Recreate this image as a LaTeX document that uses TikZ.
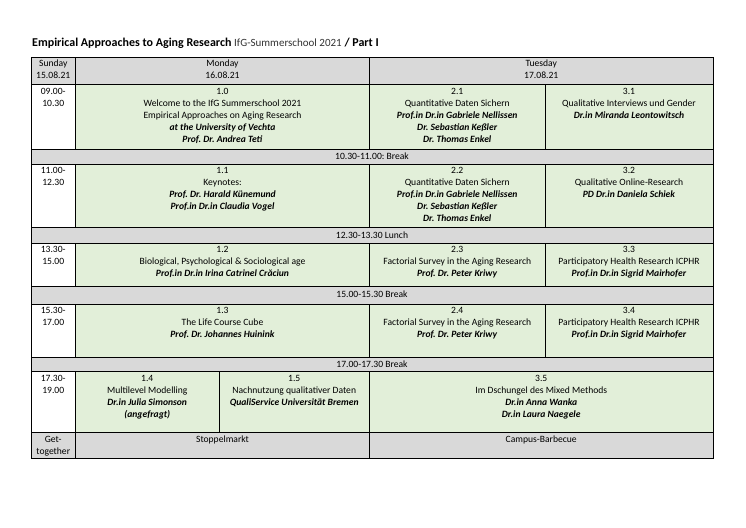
\documentclass[tikz,border=0pt]{standalone}
\usepackage{fontspec}
\setmainfont{Carlito}
\definecolor{hdgray}{HTML}{D9D9D9}
\definecolor{cellgreen}{HTML}{E2EFD9}
\newcommand\nm[1]{\textbf{\textit{#1}}}
\begin{document}
\frenchspacing
\begin{tikzpicture}[x=1pt,y=-1pt,
  gcell/.style={draw=black,line width=0.8pt,fill=hdgray},
  ecell/.style={draw=black,line width=0.8pt,fill=cellgreen},
  wcell/.style={draw=black,line width=0.8pt,fill=white},
  txt/.style={font=\fontsize{9.6}{12}\selectfont\frenchspacing,align=center,inner sep=0pt,anchor=north},
  brk/.style={font=\fontsize{9.6}{12}\selectfont\frenchspacing,inner sep=0pt,anchor=base}]
\useasboundingbox[fill=white] (0,0) rectangle (746,527);
% title
\node[anchor=base west,inner sep=0pt] (title) at (32,46.5)
  {\fontsize{12}{14}\selectfont\bfseries Empirical Approaches to Aging Research {\mdseries\color{black!80}\fontsize{11}{14}\selectfont IfG-Summerschool 2021} / Part I};
% header row
\draw[gcell] (31,57) rectangle (75.5,84.5);
\draw[gcell] (75.5,57) rectangle (369.5,84.5);
\draw[gcell] (369.5,57) rectangle (713,84.5);
\node[txt] (hsun) at (53.25,58.1) {\strut Sunday\\15.08.21};
\node[txt] (hmon) at (222.5,58.1) {\strut Monday\\16.08.21};
\node[txt] (htue) at (541.25,58.1) {\strut Tuesday\\17.08.21};
% row 1
\draw[wcell] (31,84.5) rectangle (75.5,149);
\draw[ecell] (75.5,84.5) rectangle (369.5,149);
\draw[ecell] (369.5,84.5) rectangle (545,149);
\draw[ecell] (545,84.5) rectangle (713,149);
\node[txt] (t1) at (53.25,85.8) {\strut 09.00-\\10.30};
\node[txt] (c10) at (222.5,85.8) {\strut 1.0\\Welcome to the IfG Summerschool 2021\\Empirical Approaches on Aging Research\\\nm{at the University of Vechta}\\\nm{Prof. Dr. Andrea Teti}};
\node[txt] (c21) at (457.25,85.8) {\strut 2.1\\Quantitative Daten Sichern\\\nm{Prof.in Dr.in Gabriele Nellissen}\\\nm{Dr. Sebastian Keßler}\\\nm{Dr. Thomas Enkel}};
\node[txt] (c31) at (629,85.8) {\strut 3.1\\Qualitative Interviews und Gender\\\nm{Dr.in Miranda Leontowitsch}};
% break 1
\draw[gcell] (31,149) rectangle (713,164);
\node[brk] (b1) at (372,159.6) {10.30-11.00: Break};
% row 2
\draw[wcell] (31,164) rectangle (75.5,227);
\draw[ecell] (75.5,164) rectangle (369.5,227);
\draw[ecell] (369.5,164) rectangle (545,227);
\draw[ecell] (545,164) rectangle (713,227);
\node[txt] (t2) at (53.25,165.3) {\strut 11.00-\\12.30};
\node[txt] (c11) at (222.5,165.3) {\strut 1.1\\Keynotes:\\\nm{Prof. Dr. Harald Künemund}\\\nm{Prof.in Dr.in Claudia Vogel}};
\node[txt] (c22) at (457.25,165.3) {\strut 2.2\\Quantitative Daten Sichern\\\nm{Prof.in Dr.in Gabriele Nellissen}\\\nm{Dr. Sebastian Keßler}\\\nm{Dr. Thomas Enkel}};
\node[txt] (c32) at (629,165.3) {\strut 3.2\\Qualitative Online-Research\\\nm{PD Dr.in Daniela Schiek}};
% lunch
\draw[gcell] (31,227) rectangle (713,243);
\node[brk] (b2) at (372,238) {12.30-13.30 Lunch};
% row 3
\draw[wcell] (31,243) rectangle (75.5,286);
\draw[ecell] (75.5,243) rectangle (369.5,286);
\draw[ecell] (369.5,243) rectangle (545,286);
\draw[ecell] (545,243) rectangle (713,286);
\node[txt] (t3) at (53.25,244.3) {\strut 13.30-\\15.00};
\node[txt] (c12) at (222.5,244.3) {\strut 1.2\\Biological, Psychological \& Sociological age\\\nm{Prof.in Dr.in Irina Catrinel Crăciun}};
\node[txt] (c23) at (457.25,244.3) {\strut 2.3\\Factorial Survey in the Aging Research\\\nm{Prof. Dr. Peter Kriwy}};
\node[txt] (c33) at (629,244.3) {\strut 3.3\\Participatory Health Research ICPHR\\\nm{Prof.in Dr.in Sigrid Mairhofer}};
% break 3
\draw[gcell] (31,286) rectangle (713,304.5);
\node[brk] (b3) at (372,297.5) {15.00-15.30 Break};
% row 4
\draw[wcell] (31,304.5) rectangle (75.5,357);
\draw[ecell] (75.5,304.5) rectangle (369.5,357);
\draw[ecell] (369.5,304.5) rectangle (545,357);
\draw[ecell] (545,304.5) rectangle (713,357);
\node[txt] (t4) at (53.25,305.1) {\strut 15.30-\\17.00};
\node[txt] (c13) at (222.5,305.1) {\strut 1.3\\The Life Course Cube\\\nm{Prof. Dr. Johannes Huinink}};
\node[txt] (c24) at (457.25,305.1) {\strut 2.4\\Factorial Survey in the Aging Research\\\nm{Prof. Dr. Peter Kriwy}};
\node[txt] (c34) at (629,305.1) {\strut 3.4\\Participatory Health Research ICPHR\\\nm{Prof.in Dr.in Sigrid Mairhofer}};
% break 4
\draw[gcell] (31,357) rectangle (713,371.5);
\node[brk] (b4) at (372,367.2) {17.00-17.30 Break};
% row 5
\draw[wcell] (31,371.5) rectangle (75.5,432.5);
\draw[ecell] (75.5,371.5) rectangle (219,432.5);
\draw[ecell] (219,371.5) rectangle (369.5,432.5);
\draw[ecell] (369.5,371.5) rectangle (713,432.5);
\node[txt] (t5) at (53.25,372.8) {\strut 17.30-\\19.00};
\node[txt] (c14) at (147.25,372.8) {\strut 1.4\\Multilevel Modelling\\\nm{Dr.in Julia Simonson}\\\nm{(angefragt)}};
\node[txt] (c15) at (294.25,372.8) {\strut 1.5\\Nachnutzung qualitativer Daten\\\nm{QualiService Universität Bremen}};
\node[txt] (c35) at (541.25,372.8) {\strut 3.5\\Im Dschungel des Mixed Methods\\\nm{Dr.in Anna Wanka}\\\nm{Dr.in Laura Naegele}};
% row 6
\draw[gcell] (31,432.5) rectangle (75.5,458);
\draw[gcell] (75.5,432.5) rectangle (369.5,458);
\draw[gcell] (369.5,432.5) rectangle (713,458);
\node[txt] (t6) at (53.25,433.8) {\strut Get-\\together};
\node[txt] (c16) at (222.5,433.8) {\strut Stoppelmarkt};
\node[txt] (c36) at (541.25,433.8) {\strut Campus-Barbecue};
\end{tikzpicture}
\end{document}
